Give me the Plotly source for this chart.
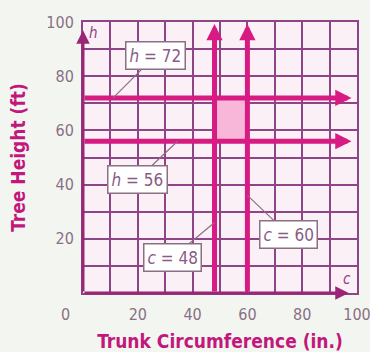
import plotly.graph_objects as go

# data
h_values = [72, 56]          # horizontal lines (tree height, ft)
c_values = [48, 60]          # vertical lines (trunk circumference, in.)
tick_vals = [20, 40, 60, 80, 100]
tick_text = ["20", "40", "60", "80", "100"]

# callout boxes: label, (x, y) on the line, pixel offset of the box
callouts = [
    ("<i>h</i> = 72", 11, h_values[0], 42, -42),
    ("<i>h</i> = 56", 34.5, h_values[1], -40, 38),
    ("<i>c</i> = 48", c_values[0], 26, -42, 35),
    ("<i>c</i> = 60", c_values[1], 36, 41, 39),
]

MAGENTA = "#d81b83"
GRID = "#8e4486"
AXIS = "#9a2679"
TICK = "#8a6f85"
BG = "#f3f6f0"
FONT = "Liberation Sans Narrow, DejaVu Sans Condensed, sans-serif"

fig = go.Figure()

# invisible trace so the axes exist
fig.add_trace(go.Scatter(x=[0, 100], y=[0, 100], mode="markers",
                         marker=dict(opacity=0), hoverinfo="skip", showlegend=False))

# shaded region between the lines
fig.add_shape(type="rect", xref="x", yref="y",
              x0=c_values[0], x1=c_values[1], y0=h_values[1], y1=h_values[0],
              fillcolor="#f8b6d8", line_width=0, layer="between")

annotations = []

# horizontal arrows for h
for h in h_values:
    annotations.append(dict(x=98, y=h, ax=0, ay=h, xref="x", yref="y", axref="x", ayref="y",
                            showarrow=True, arrowhead=2, arrowsize=0.65, arrowwidth=5,
                            arrowcolor=MAGENTA, text=""))
# vertical arrows for c
for c in c_values:
    annotations.append(dict(x=c, y=99.3, ax=c, ay=0, xref="x", yref="y", axref="x", ayref="y",
                            showarrow=True, arrowhead=2, arrowsize=0.65, arrowwidth=5,
                            arrowcolor=MAGENTA, text=""))

# axis arrows
annotations.append(dict(x=0, y=97, ax=0, ay=0, xref="x", yref="y", axref="x", ayref="y",
                        showarrow=True, arrowhead=2, arrowsize=0.9, arrowwidth=3,
                        arrowcolor=AXIS, text=""))
annotations.append(dict(x=97, y=0, ax=0, ay=0, xref="x", yref="y", axref="x", ayref="y",
                        showarrow=True, arrowhead=2, arrowsize=0.9, arrowwidth=3,
                        arrowcolor=AXIS, text=""))
annotations.append(dict(x=0, y=100, xref="x", yref="y", text="<i>h</i>", showarrow=False,
                        xshift=10, yshift=-11, font=dict(family=FONT, size=15, color=GRID)))
annotations.append(dict(x=100, y=0, xref="x", yref="y", text="<i>c</i>", showarrow=False,
                        xshift=-10, yshift=14, font=dict(family=FONT, size=15, color=GRID)))

# shared origin label
annotations.append(dict(x=0, y=0, xref="x", yref="y", text="0", showarrow=False,
                        xshift=-18, yshift=-21, font=dict(family=FONT, size=16, color=TICK)))

# callouts
for text, x, y, ax, ay in callouts:
    annotations.append(dict(x=x, y=y, xref="x", yref="y", ax=ax, ay=ay, text=text,
                            showarrow=True, arrowhead=0, arrowwidth=1.2, arrowcolor=TICK,
                            standoff=0, bgcolor="white", bordercolor=TICK, borderwidth=1.5,
                            borderpad=3, font=dict(family=FONT, size=17, color="#8a5a85")))

fig.update_layout(
    width=370, height=352,
    margin=dict(l=83, r=13, t=22, b=59),
    paper_bgcolor=BG,
    plot_bgcolor="#fcf0f7",
    showlegend=False,
    annotations=annotations,
)

fig.update_xaxes(range=[0, 100], showgrid=True, gridcolor=GRID, gridwidth=2,
                 showline=True, linecolor=GRID, linewidth=2, mirror=True, zeroline=False,
                 tickmode="array", tickvals=tick_vals, ticktext=tick_text, ticks="",
                 ticklabeloverflow="allow", automargin=False, ticklabelstandoff=6,
                 tickfont=dict(family=FONT, size=16, color=TICK),
                 title=dict(text="<b>Trunk Circumference (in.)</b>", standoff=14,
                            font=dict(family=FONT, size=19, color="#c2187d")))
fig.update_yaxes(range=[0, 100], showgrid=True, gridcolor=GRID, gridwidth=2,
                 showline=True, linecolor=GRID, linewidth=2, mirror=True, zeroline=False,
                 tickmode="array", tickvals=tick_vals, ticktext=tick_text, ticks="",
                 ticklabeloverflow="allow", automargin=False, ticklabelstandoff=4,
                 tickfont=dict(family=FONT, size=16, color=TICK),
                 title=dict(text="<b>Tree Height (ft)</b>", standoff=16,
                            font=dict(family=FONT, size=19, color="#c2187d")))

# gridlines every 10 units: minor grid
fig.update_xaxes(minor=dict(dtick=10, tick0=0, showgrid=True, gridcolor=GRID, gridwidth=2))
fig.update_yaxes(minor=dict(dtick=10, tick0=0, showgrid=True, gridcolor=GRID, gridwidth=2))

# drop the browser's default body margin so the figure sits at the page corner
fig.write_html("out.html", config={"displayModeBar": False},
               post_script=f"document.body.style.margin='0';document.body.style.background='{BG}';")
